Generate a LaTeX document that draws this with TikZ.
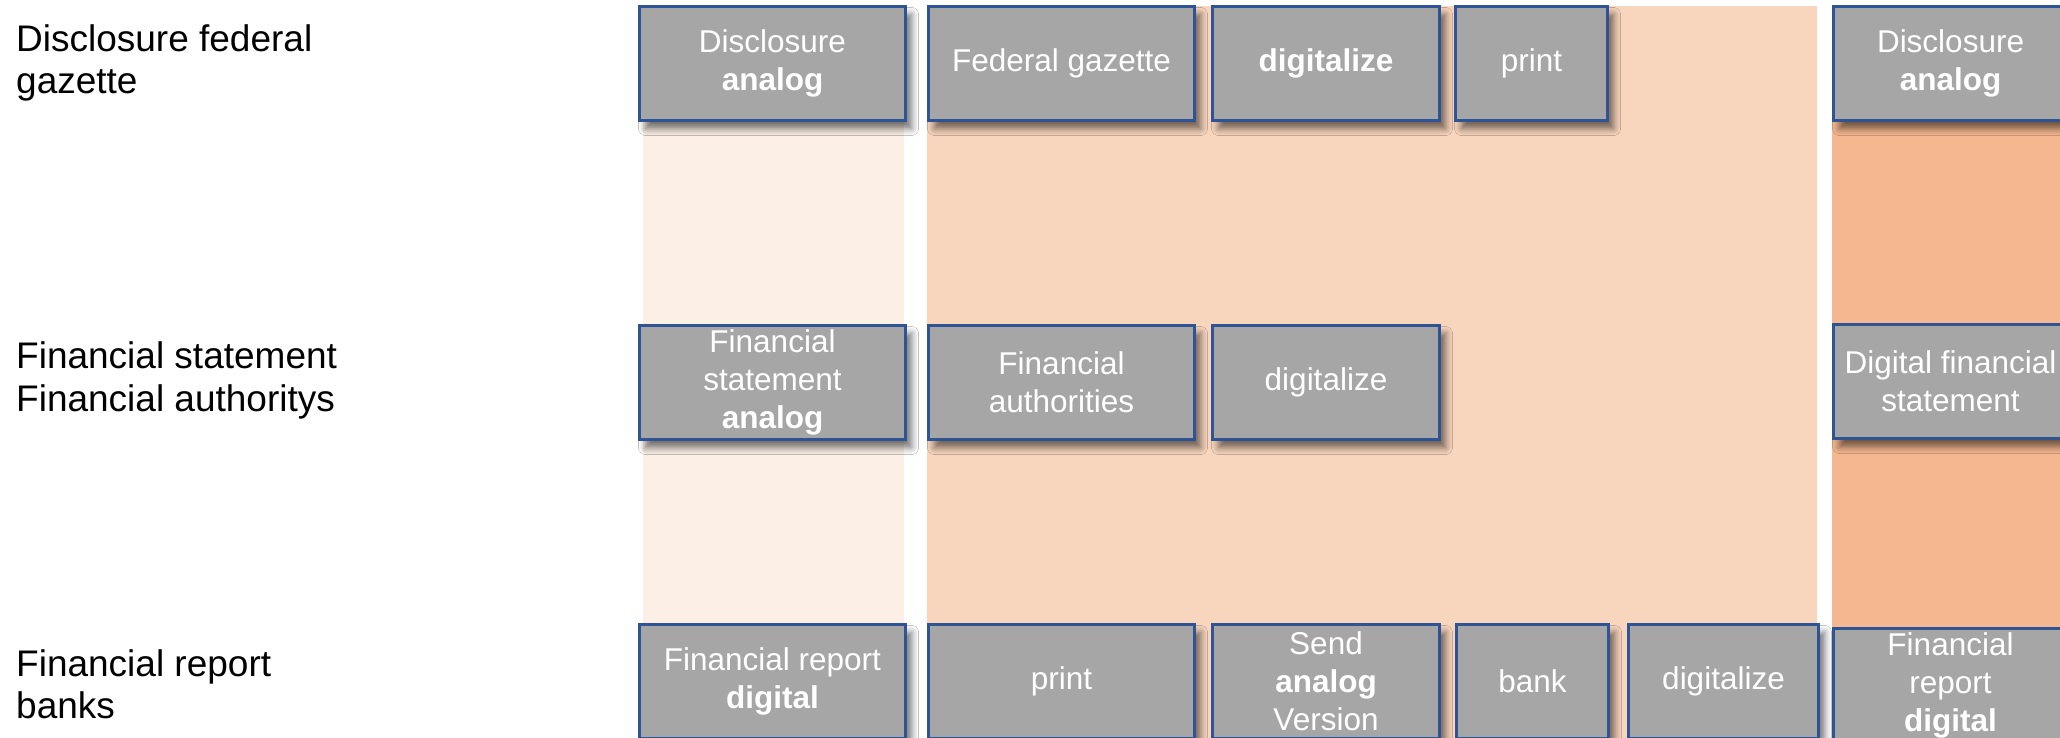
\documentclass[tikz,border=0pt]{standalone}
\usepackage{fontspec}
\setmainfont{Liberation Sans}
\usetikzlibrary{shadows.blur}
\definecolor{bandA}{HTML}{FBEFE6}
\definecolor{bandB}{HTML}{F8D5BD}
\definecolor{bandC}{HTML}{F4B78F}
\definecolor{boxfill}{HTML}{A6A6A6}
\definecolor{boxline}{HTML}{2F5496}
\tikzset{
  boxnode/.style={draw=boxline, fill=boxfill, line width=3pt, text=white,
    inner sep=0pt, anchor=north west, align=center,
    font=\fontsize{31.5}{38}\selectfont,
    blur shadow={shadow xshift=6pt, shadow yshift=-8pt, shadow blur radius=7pt, shadow opacity=55}},
  lbl/.style={anchor=base west, inner sep=0pt, font=\fontsize{37}{42}\selectfont, text=black}
}
\begin{document}
\begin{tikzpicture}[x=1pt,y=-1pt]
\useasboundingbox (0,0) rectangle (2060,738);
\clip (0,0) rectangle (2060,738);
\fill[white] (0,0) rectangle (2060,738);
% bands
\fill[bandA] (643,20) rectangle (904,738);
\fill[bandB] (927,6) rectangle (1817,738);
\fill[bandC] (1832,10) rectangle (2060,738);
% left labels
\node[lbl] (l1a) at (16,52) {Disclosure federal};
\node[lbl] (l1b) at (16,94) {gazette};
\node[lbl] (l2a) at (16,368) {Financial statement};
\node[lbl] (l2b) at (16,411) {Financial authoritys};
\node[lbl] (l3a) at (16,676) {Financial report};
\node[lbl] (l3b) at (16,718) {banks};
% row 1
\node[boxnode, minimum width=266pt, minimum height=114pt] (a1) at (638,5) {Disclosure\\\textbf{analog}};
\node[boxnode, minimum width=266pt, minimum height=114pt] (a2) at (927,5) {Federal gazette};
\node[boxnode, minimum width=227pt, minimum height=114pt] (a3) at (1211,5) {\textbf{digitalize}};
\node[boxnode, minimum width=152pt, minimum height=114pt] (a4) at (1454,5) {print};
\node[boxnode, minimum width=234pt, minimum height=114pt] (a5) at (1832,5) {Disclosure\\\textbf{analog}};
% row 2
\node[boxnode, minimum width=266pt, minimum height=114pt] (b1) at (638,324) {Financial\\statement\\\textbf{analog}};
\node[boxnode, minimum width=266pt, minimum height=114pt] (b2) at (927,324) {Financial\\authorities};
\node[boxnode, minimum width=227pt, minimum height=114pt] (b3) at (1211,324) {digitalize};
\node[boxnode, minimum width=234pt, minimum height=114pt] (b4) at (1832,323) {Digital financial\\statement};
% row 3
\node[boxnode, minimum width=266pt, minimum height=114pt] (c1) at (638,623) {Financial report\\\textbf{digital}};
\node[boxnode, minimum width=266pt, minimum height=114pt] (c2) at (927,623) {print};
\node[boxnode, minimum width=227pt, minimum height=114pt] (c3) at (1211,623) {Send\\\textbf{analog}\\Version};
\node[boxnode, minimum width=152pt, minimum height=114pt] (c4) at (1455,623) {bank};
\node[boxnode, minimum width=190pt, minimum height=114pt] (c5) at (1627,623) {digitalize};
\node[boxnode, minimum width=234pt, minimum height=114pt] (c6) at (1832,627) {Financial\\report\\\textbf{digital}};
\end{tikzpicture}
\end{document}
